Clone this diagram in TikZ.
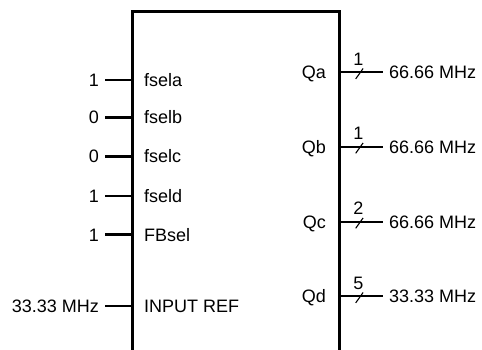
\documentclass[tikz,border=0pt]{standalone}
\usepackage{fontspec}
\setmainfont{Liberation Sans}
\begin{document}
\begin{tikzpicture}[x=1pt,y=-1pt,
  txt/.style={font=\fontsize{18}{20}\selectfont, inner sep=0pt, text height=13pt, text depth=0pt},
  inval/.style={txt, anchor=east, inner xsep=6pt},
  pin/.style={txt, anchor=west},
  qlab/.style={txt, anchor=east},
  outval/.style={txt, anchor=west, inner xsep=6pt},
  buslab/.style={txt},
  wire/.style={line width=2.2pt},
  boxline/.style={line width=3pt},
  slashline/.style={line width=1.1pt}]
\useasboundingbox (0,0) rectangle (482,350);
\clip (0,0) rectangle (482,350);
\draw[boxline] (132,353) -- (132,12) -- (339,12) -- (339,353);
% inputs
\foreach \n/\v/\p/\y in {a/1/fsela/80, b/0/fselb/117.5, c/0/fselc/156.5, d/1/fseld/196, e/1/FBsel/234.5, f/33.33 MHz/INPUT REF/306}{
  \node[inval] (v\n) at (105,\y) {\v};
  \node[pin] (p\n) at (144,\y) {\p};
  \coordinate (i\n) at (132,\y);
  \draw[wire] (v\n.east) -- (i\n);
}
% outputs
\foreach \n/\q/\b/\f/\y in {a/Qa/1/66.66 MHz/72.3, b/Qb/1/66.66 MHz/146.7, c/Qc/2/66.66 MHz/221.7, d/Qd/5/33.33 MHz/296.3}{
  \node[qlab] (q\n) at (326,\y) {\q};
  \coordinate (o\n) at (339,\y);
  \node[outval] (f\n) at (383,\y) {\f};
  \draw[wire] (o\n) -- (f\n.west);
  \coordinate (s\n) at (359.4,\y);
  \draw[slashline] ([shift={(-3.7,6.6)}]s\n) -- ([shift={(3.7,-3.8)}]s\n);
  \node[buslab] (n\n) at (358.5,\y-13.5) {\b};
}
\end{tikzpicture}
\end{document}
